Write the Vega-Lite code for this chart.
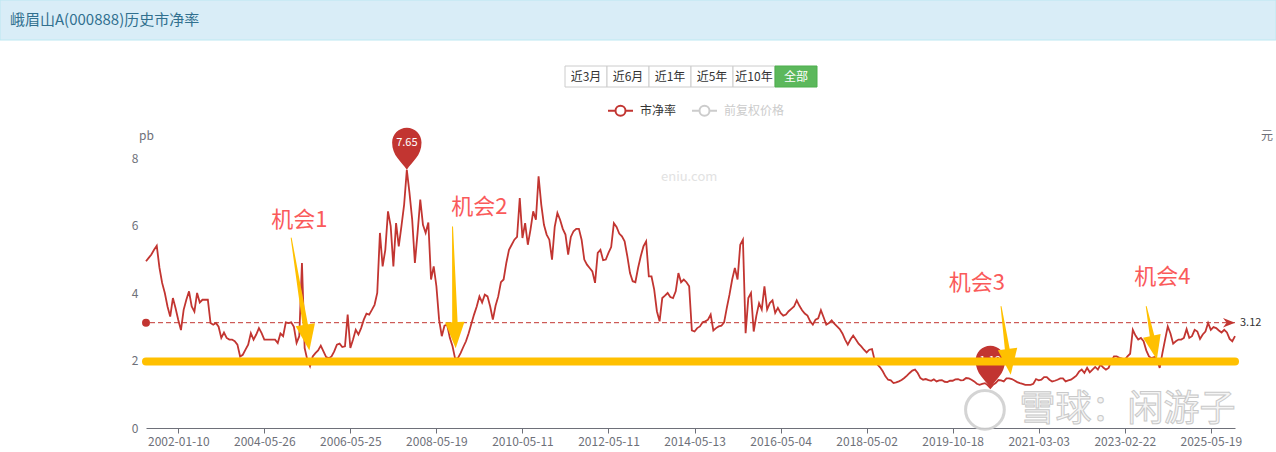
{
  "$schema": "https://vega.github.io/schema/vega-lite/v6.json",
  "width": 1089,
  "height": 270,
  "autosize": {"type": "none"},
  "padding": {"left": 146, "top": 158, "right": 41, "bottom": 24},
  "background": "#ffffff",
  "config": {
    "view": {"stroke": null},
    "font": "Noto Sans CJK SC",
    "text": {"font": "Noto Sans CJK SC"},
    "axis": {"labelFont": "Noto Sans CJK SC", "titleFont": "Noto Sans CJK SC", "labelColor": "#6e7079", "labelFontSize": 12}
  },
  "datasets": {
    "pb": [
      {"date":"2001-02-20","pb":4.94},{"date":"2001-03-19","pb":5.04},{"date":"2001-04-15","pb":5.14},{"date":"2001-05-12","pb":5.28},
      {"date":"2001-06-08","pb":5.4},{"date":"2001-07-05","pb":4.75},{"date":"2001-08-01","pb":4.3},{"date":"2001-08-28","pb":4.0},
      {"date":"2001-09-24","pb":3.6},{"date":"2001-10-21","pb":3.3},{"date":"2001-11-17","pb":3.85},{"date":"2001-12-14","pb":3.55},
      {"date":"2002-01-10","pb":3.2},{"date":"2002-02-06","pb":2.9},{"date":"2002-03-05","pb":3.5},{"date":"2002-04-01","pb":3.8},
      {"date":"2002-04-28","pb":4.05},{"date":"2002-05-25","pb":3.6},{"date":"2002-06-21","pb":3.45},{"date":"2002-07-18","pb":4.0},
      {"date":"2002-08-14","pb":3.72},{"date":"2002-09-10","pb":3.8},{"date":"2002-10-07","pb":3.8},{"date":"2002-11-03","pb":3.8},
      {"date":"2002-11-30","pb":3.11},{"date":"2002-12-27","pb":3.06},{"date":"2003-01-23","pb":3.11},{"date":"2003-02-19","pb":3.0},
      {"date":"2003-03-18","pb":2.67},{"date":"2003-04-14","pb":2.83},{"date":"2003-05-11","pb":2.67},{"date":"2003-06-07","pb":2.62},
      {"date":"2003-07-04","pb":2.62},{"date":"2003-07-31","pb":2.57},{"date":"2003-08-27","pb":2.47},{"date":"2003-09-23","pb":2.12},
      {"date":"2003-10-20","pb":2.17},{"date":"2003-11-16","pb":2.32},{"date":"2003-12-13","pb":2.47},{"date":"2004-01-09","pb":2.81},
      {"date":"2004-02-05","pb":2.62},{"date":"2004-03-03","pb":2.77},{"date":"2004-03-30","pb":2.96},{"date":"2004-04-27","pb":2.81},
      {"date":"2004-05-26","pb":2.62},{"date":"2004-06-15","pb":2.62},{"date":"2004-07-10","pb":2.62},{"date":"2004-08-02","pb":2.62},
      {"date":"2004-08-25","pb":2.62},{"date":"2004-09-17","pb":2.52},{"date":"2004-10-10","pb":2.8},{"date":"2004-11-02","pb":2.72},
      {"date":"2004-11-25","pb":3.13},{"date":"2004-12-18","pb":3.11},{"date":"2005-01-10","pb":3.13},{"date":"2005-02-02","pb":3.0},
      {"date":"2005-02-25","pb":2.52},{"date":"2005-03-18","pb":2.72},{"date":"2005-04-10","pb":4.89},{"date":"2005-05-02","pb":2.37},
      {"date":"2005-05-25","pb":2.02},{"date":"2005-06-17","pb":1.83},{"date":"2005-07-10","pb":2.12},{"date":"2005-08-02","pb":2.22},
      {"date":"2005-08-25","pb":2.3},{"date":"2005-09-17","pb":2.44},{"date":"2005-10-10","pb":2.27},{"date":"2005-11-02","pb":2.1},
      {"date":"2005-11-25","pb":2.07},{"date":"2005-12-18","pb":2.12},{"date":"2006-01-10","pb":2.27},{"date":"2006-02-02","pb":2.47},
      {"date":"2006-02-25","pb":2.5},{"date":"2006-03-18","pb":2.4},{"date":"2006-04-10","pb":2.42},{"date":"2006-04-28","pb":3.36},
      {"date":"2006-05-25","pb":2.37},{"date":"2006-06-15","pb":2.62},{"date":"2006-07-10","pb":2.91},{"date":"2006-08-02","pb":2.77},
      {"date":"2006-08-25","pb":2.96},{"date":"2006-09-17","pb":3.21},{"date":"2006-10-10","pb":3.39},{"date":"2006-11-02","pb":3.36},
      {"date":"2006-11-25","pb":3.5},{"date":"2006-12-18","pb":3.65},{"date":"2007-01-10","pb":4.0},{"date":"2007-02-02","pb":5.78},
      {"date":"2007-02-25","pb":4.79},{"date":"2007-03-18","pb":5.28},{"date":"2007-04-10","pb":6.42},{"date":"2007-05-02","pb":5.98},
      {"date":"2007-05-25","pb":4.79},{"date":"2007-06-17","pb":6.07},{"date":"2007-07-10","pb":5.38},{"date":"2007-08-02","pb":5.98},
      {"date":"2007-08-25","pb":6.62},{"date":"2007-09-17","pb":7.65},{"date":"2007-10-10","pb":6.96},{"date":"2007-11-02","pb":6.17},
      {"date":"2007-11-25","pb":4.89},{"date":"2007-12-18","pb":5.78},{"date":"2008-01-10","pb":6.77},{"date":"2008-02-02","pb":6.02},
      {"date":"2008-02-25","pb":5.78},{"date":"2008-03-18","pb":6.09},{"date":"2008-04-10","pb":4.4},{"date":"2008-04-28","pb":4.79},
      {"date":"2008-05-19","pb":4.2},{"date":"2008-06-15","pb":3.21},{"date":"2008-07-10","pb":2.72},{"date":"2008-08-02","pb":3.03},
      {"date":"2008-08-25","pb":3.06},{"date":"2008-09-17","pb":2.67},{"date":"2008-10-10","pb":2.42},{"date":"2008-11-02","pb":2.04},
      {"date":"2008-11-25","pb":2.07},{"date":"2008-12-18","pb":2.22},{"date":"2009-01-10","pb":2.4},{"date":"2009-02-02","pb":2.57},
      {"date":"2009-02-25","pb":2.81},{"date":"2009-03-18","pb":3.09},{"date":"2009-04-10","pb":3.36},{"date":"2009-05-02","pb":3.6},
      {"date":"2009-05-25","pb":3.9},{"date":"2009-06-17","pb":3.72},{"date":"2009-07-10","pb":3.95},{"date":"2009-08-02","pb":3.9},
      {"date":"2009-08-25","pb":3.6},{"date":"2009-09-17","pb":3.21},{"date":"2009-10-10","pb":3.62},{"date":"2009-11-02","pb":3.9},
      {"date":"2009-11-25","pb":4.32},{"date":"2009-12-18","pb":4.4},{"date":"2010-01-10","pb":4.89},{"date":"2010-02-02","pb":5.28},
      {"date":"2010-02-25","pb":5.43},{"date":"2010-03-18","pb":5.58},{"date":"2010-04-10","pb":5.66},{"date":"2010-04-28","pb":6.81},
      {"date":"2010-05-11","pb":5.63},{"date":"2010-06-15","pb":6.07},{"date":"2010-07-10","pb":5.43},{"date":"2010-08-02","pb":5.88},
      {"date":"2010-08-25","pb":6.42},{"date":"2010-09-17","pb":6.17},{"date":"2010-10-10","pb":7.46},{"date":"2010-11-02","pb":6.62},
      {"date":"2010-11-25","pb":6.02},{"date":"2010-12-18","pb":5.73},{"date":"2011-01-10","pb":5.58},{"date":"2011-02-02","pb":4.99},
      {"date":"2011-02-25","pb":5.96},{"date":"2011-03-18","pb":6.37},{"date":"2011-04-10","pb":6.17},{"date":"2011-05-02","pb":5.9},
      {"date":"2011-05-25","pb":5.73},{"date":"2011-06-17","pb":5.14},{"date":"2011-07-10","pb":5.66},{"date":"2011-08-02","pb":5.83},
      {"date":"2011-08-25","pb":5.9},{"date":"2011-09-17","pb":5.9},{"date":"2011-10-10","pb":5.58},{"date":"2011-11-02","pb":4.99},
      {"date":"2011-11-25","pb":4.84},{"date":"2011-12-18","pb":4.74},{"date":"2012-01-10","pb":4.64},{"date":"2012-02-02","pb":4.3},
      {"date":"2012-02-25","pb":5.19},{"date":"2012-03-18","pb":5.28},{"date":"2012-04-10","pb":4.97},{"date":"2012-04-28","pb":4.99},
      {"date":"2012-05-11","pb":5.19},{"date":"2012-06-15","pb":5.36},{"date":"2012-07-10","pb":6.07},{"date":"2012-08-02","pb":5.96},
      {"date":"2012-08-25","pb":5.76},{"date":"2012-09-17","pb":5.68},{"date":"2012-10-10","pb":5.53},{"date":"2012-11-02","pb":5.09},
      {"date":"2012-11-25","pb":4.59},{"date":"2012-12-18","pb":4.35},{"date":"2013-01-10","pb":4.32},{"date":"2013-02-02","pb":4.74},
      {"date":"2013-02-25","pb":5.09},{"date":"2013-03-18","pb":5.38},{"date":"2013-04-10","pb":5.53},{"date":"2013-05-02","pb":4.49},
      {"date":"2013-05-25","pb":4.49},{"date":"2013-06-17","pb":4.1},{"date":"2013-07-10","pb":3.46},{"date":"2013-08-02","pb":3.16},
      {"date":"2013-08-25","pb":3.85},{"date":"2013-09-17","pb":3.92},{"date":"2013-10-10","pb":4.0},{"date":"2013-11-02","pb":3.88},
      {"date":"2013-11-25","pb":3.85},{"date":"2013-12-18","pb":4.05},{"date":"2014-01-10","pb":4.59},{"date":"2014-02-02","pb":4.32},
      {"date":"2014-02-25","pb":4.4},{"date":"2014-03-18","pb":4.32},{"date":"2014-04-10","pb":4.2},{"date":"2014-04-28","pb":2.89},
      {"date":"2014-05-13","pb":2.86},{"date":"2014-06-15","pb":2.96},{"date":"2014-07-10","pb":3.01},{"date":"2014-08-02","pb":3.13},
      {"date":"2014-08-25","pb":3.16},{"date":"2014-09-17","pb":3.21},{"date":"2014-10-10","pb":3.36},{"date":"2014-11-02","pb":2.89},
      {"date":"2014-11-25","pb":2.96},{"date":"2014-12-18","pb":3.01},{"date":"2015-01-10","pb":3.03},{"date":"2015-02-02","pb":3.13},
      {"date":"2015-02-25","pb":3.56},{"date":"2015-03-18","pb":3.95},{"date":"2015-04-10","pb":4.4},{"date":"2015-05-02","pb":4.74},
      {"date":"2015-05-25","pb":4.4},{"date":"2015-06-17","pb":5.43},{"date":"2015-07-10","pb":5.58},{"date":"2015-08-02","pb":2.81},
      {"date":"2015-08-25","pb":3.85},{"date":"2015-09-17","pb":4.0},{"date":"2015-10-10","pb":2.86},{"date":"2015-11-02","pb":3.33},
      {"date":"2015-11-25","pb":3.7},{"date":"2015-12-18","pb":3.51},{"date":"2016-01-10","pb":4.2},{"date":"2016-02-02","pb":3.51},
      {"date":"2016-02-25","pb":3.7},{"date":"2016-03-18","pb":3.78},{"date":"2016-04-10","pb":3.41},{"date":"2016-04-28","pb":3.56},
      {"date":"2016-05-04","pb":3.41},{"date":"2016-06-15","pb":3.33},{"date":"2016-07-10","pb":3.36},{"date":"2016-08-02","pb":3.46},
      {"date":"2016-08-25","pb":3.53},{"date":"2016-09-17","pb":3.6},{"date":"2016-10-10","pb":3.78},{"date":"2016-11-02","pb":3.62},
      {"date":"2016-11-25","pb":3.49},{"date":"2016-12-18","pb":3.39},{"date":"2017-01-10","pb":3.33},{"date":"2017-02-02","pb":3.16},
      {"date":"2017-02-25","pb":3.06},{"date":"2017-03-18","pb":3.21},{"date":"2017-04-10","pb":3.25},{"date":"2017-05-02","pb":3.49},
      {"date":"2017-05-25","pb":3.28},{"date":"2017-06-17","pb":3.06},{"date":"2017-07-10","pb":3.11},{"date":"2017-08-02","pb":3.19},
      {"date":"2017-08-25","pb":3.09},{"date":"2017-09-17","pb":3.01},{"date":"2017-10-10","pb":2.93},{"date":"2017-11-02","pb":2.8},
      {"date":"2017-11-25","pb":2.62},{"date":"2017-12-18","pb":2.47},{"date":"2018-01-10","pb":2.62},{"date":"2018-02-02","pb":2.74},
      {"date":"2018-02-25","pb":2.62},{"date":"2018-03-18","pb":2.5},{"date":"2018-04-10","pb":2.42},{"date":"2018-04-28","pb":2.32},
      {"date":"2018-05-02","pb":2.24},{"date":"2018-05-18","pb":2.32},{"date":"2018-06-04","pb":2.34},{"date":"2018-06-21","pb":2.0},
      {"date":"2018-07-08","pb":1.88},{"date":"2018-07-24","pb":1.8},{"date":"2018-08-10","pb":1.68},{"date":"2018-08-27","pb":1.53},
      {"date":"2018-09-13","pb":1.43},{"date":"2018-09-29","pb":1.41},{"date":"2018-10-16","pb":1.33},{"date":"2018-11-02","pb":1.35},
      {"date":"2018-11-19","pb":1.38},{"date":"2018-12-05","pb":1.42},{"date":"2018-12-22","pb":1.48},{"date":"2019-01-08","pb":1.55},
      {"date":"2019-01-25","pb":1.63},{"date":"2019-02-11","pb":1.7},{"date":"2019-02-27","pb":1.73},{"date":"2019-03-16","pb":1.63},
      {"date":"2019-04-01","pb":1.48},{"date":"2019-04-18","pb":1.43},{"date":"2019-05-05","pb":1.45},{"date":"2019-05-21","pb":1.42},
      {"date":"2019-06-07","pb":1.4},{"date":"2019-06-23","pb":1.44},{"date":"2019-07-10","pb":1.38},{"date":"2019-07-27","pb":1.41},
      {"date":"2019-08-13","pb":1.42},{"date":"2019-08-29","pb":1.37},{"date":"2019-09-15","pb":1.36},{"date":"2019-10-01","pb":1.4},
      {"date":"2019-10-18","pb":1.4},{"date":"2019-11-02","pb":1.44},{"date":"2019-11-18","pb":1.45},{"date":"2019-12-04","pb":1.41},
      {"date":"2019-12-20","pb":1.42},{"date":"2020-01-05","pb":1.48},{"date":"2020-01-20","pb":1.47},{"date":"2020-02-05","pb":1.43},
      {"date":"2020-02-21","pb":1.38},{"date":"2020-03-08","pb":1.31},{"date":"2020-03-23","pb":1.28},{"date":"2020-04-08","pb":1.31},
      {"date":"2020-04-24","pb":1.33},{"date":"2020-05-10","pb":1.27},{"date":"2020-05-25","pb":1.19},{"date":"2020-06-10","pb":1.28},
      {"date":"2020-06-26","pb":1.33},{"date":"2020-07-12","pb":1.42},{"date":"2020-07-27","pb":1.41},{"date":"2020-08-12","pb":1.38},
      {"date":"2020-08-28","pb":1.47},{"date":"2020-09-13","pb":1.47},{"date":"2020-09-28","pb":1.45},{"date":"2020-10-14","pb":1.41},
      {"date":"2020-10-30","pb":1.36},{"date":"2020-11-15","pb":1.33},{"date":"2020-11-30","pb":1.31},{"date":"2020-12-17","pb":1.28},
      {"date":"2021-01-04","pb":1.28},{"date":"2021-01-18","pb":1.28},{"date":"2021-02-01","pb":1.31},{"date":"2021-02-16","pb":1.45},
      {"date":"2021-03-03","pb":1.41},{"date":"2021-03-25","pb":1.43},{"date":"2021-04-17","pb":1.51},{"date":"2021-05-09","pb":1.51},
      {"date":"2021-06-01","pb":1.43},{"date":"2021-06-23","pb":1.38},{"date":"2021-07-16","pb":1.4},{"date":"2021-08-07","pb":1.43},
      {"date":"2021-08-30","pb":1.47},{"date":"2021-09-22","pb":1.47},{"date":"2021-10-14","pb":1.38},{"date":"2021-11-05","pb":1.41},
      {"date":"2021-11-28","pb":1.43},{"date":"2021-12-20","pb":1.49},{"date":"2022-01-12","pb":1.55},{"date":"2022-02-03","pb":1.67},
      {"date":"2022-02-26","pb":1.73},{"date":"2022-03-20","pb":1.63},{"date":"2022-04-12","pb":1.78},{"date":"2022-05-04","pb":1.65},
      {"date":"2022-05-27","pb":1.73},{"date":"2022-06-18","pb":1.81},{"date":"2022-07-11","pb":1.73},{"date":"2022-08-02","pb":1.88},
      {"date":"2022-08-25","pb":1.79},{"date":"2022-09-17","pb":1.73},{"date":"2022-10-09","pb":1.78},{"date":"2022-10-31","pb":1.98},
      {"date":"2022-11-23","pb":2.12},{"date":"2022-12-15","pb":2.12},{"date":"2023-01-07","pb":2.08},{"date":"2023-01-30","pb":2.06},
      {"date":"2023-02-22","pb":2.02},{"date":"2023-03-20","pb":2.12},{"date":"2023-04-14","pb":2.2},{"date":"2023-05-09","pb":2.91},
      {"date":"2023-06-04","pb":2.74},{"date":"2023-06-29","pb":2.62},{"date":"2023-07-25","pb":2.67},{"date":"2023-08-19","pb":2.57},
      {"date":"2023-09-14","pb":2.3},{"date":"2023-10-09","pb":2.12},{"date":"2023-11-04","pb":2.07},{"date":"2023-11-29","pb":2.1},
      {"date":"2023-12-25","pb":2.02},{"date":"2024-01-19","pb":1.78},{"date":"2024-02-14","pb":2.22},{"date":"2024-03-10","pb":2.62},
      {"date":"2024-04-05","pb":3.01},{"date":"2024-04-30","pb":2.8},{"date":"2024-05-26","pb":2.5},{"date":"2024-06-20","pb":2.57},
      {"date":"2024-07-16","pb":2.62},{"date":"2024-08-10","pb":2.62},{"date":"2024-09-05","pb":2.67},{"date":"2024-09-30","pb":2.93},
      {"date":"2024-10-26","pb":2.67},{"date":"2024-11-20","pb":2.72},{"date":"2024-12-16","pb":2.91},{"date":"2025-01-10","pb":2.86},
      {"date":"2025-02-05","pb":2.64},{"date":"2025-03-02","pb":2.77},{"date":"2025-03-28","pb":2.86},{"date":"2025-04-23","pb":3.11},
      {"date":"2025-05-19","pb":2.91},{"date":"2025-05-30","pb":2.99},{"date":"2025-06-10","pb":2.96},{"date":"2025-06-20","pb":2.89},
      {"date":"2025-07-01","pb":2.83},{"date":"2025-07-11","pb":2.91},{"date":"2025-07-22","pb":2.83},{"date":"2025-08-01","pb":2.64},
      {"date":"2025-08-12","pb":2.57},{"date":"2025-08-22","pb":2.72}
    ],
    "arrows": [
      {"arrow": "机会1", "date": "2005-01-10", "pb": 5.63, "part": "tail"},
      {"arrow": "机会1", "date": "2005-05-25", "pb": 2.68, "part": "head"},
      {"arrow": "机会2", "date": "2008-10-10", "pb": 5.96, "part": "tail"},
      {"arrow": "机会2", "date": "2008-11-02", "pb": 2.75, "part": "head"},
      {"arrow": "机会3", "date": "2020-07-27", "pb": 3.6, "part": "tail"},
      {"arrow": "机会3", "date": "2020-09-13", "pb": 1.96, "part": "head"},
      {"arrow": "机会4", "date": "2023-09-14", "pb": 3.6, "part": "tail"},
      {"arrow": "机会4", "date": "2023-11-29", "pb": 2.38, "part": "head"}
    ],
    "notes": [
      {"label": "机会1", "date": "2005-03-18", "pb": 6.17},
      {"label": "机会2", "date": "2009-05-25", "pb": 6.56},
      {"label": "机会3", "date": "2020-03-08", "pb": 4.29},
      {"label": "机会4", "date": "2024-02-14", "pb": 4.47}
    ]
  },
  "resolve": {"scale": {"x": "independent", "y": "independent"}},
  "layer": [
    {
      "data": {"values": [{"t": "峨眉山A(000888)历史市净率"}]},
      "encoding": {
        "x": {"datum": 0, "type": "quantitative", "scale": {"domain": [0, 1], "range": [-146, 1130]}, "axis": null},
        "y": {"datum": 0, "type": "quantitative", "scale": {"domain": [0, 1], "range": [-158, -118]}, "axis": null}
      },
      "layer": [
        {"mark": {"type": "rect", "fill": "#d9edf7", "stroke": "#bce8f1", "strokeWidth": 1}, "encoding": {"x2": {"datum": 1}, "y2": {"datum": 1}}},
        {"mark": {"type": "text", "align": "left", "baseline": "middle", "dx": 10, "fontSize": 15, "fill": "#31708f"}, "encoding": {"y": {"datum": 0.5, "type": "quantitative"}, "text": {"field": "t"}}}
      ]
    },
    {
      "data": {"values": [
        {"label": "近3月", "on": false}, {"label": "近6月", "on": false}, {"label": "近1年", "on": false},
        {"label": "近5年", "on": false}, {"label": "近10年", "on": false}, {"label": "全部", "on": true}
      ]},
      "encoding": {
        "x": {"field": "label", "type": "nominal", "sort": null, "scale": {"type": "band", "range": [419, 671], "paddingInner": 0, "paddingOuter": 0}, "axis": null},
        "y": {"datum": 0, "type": "quantitative", "scale": {"domain": [0, 1], "range": [-92, -71]}, "axis": null}
      },
      "layer": [
        {"mark": {"type": "rect", "strokeWidth": 1}, "encoding": {
          "y2": {"datum": 1},
          "fill": {"condition": {"test": "datum.on", "value": "#5cb85c"}, "value": "#ffffff"},
          "stroke": {"condition": {"test": "datum.on", "value": "#4cae4c"}, "value": "#cccccc"}
        }},
        {"mark": {"type": "text", "baseline": "middle", "fontSize": 12}, "encoding": {
          "y": {"datum": 0.5, "type": "quantitative"},
          "text": {"field": "label"},
          "fill": {"condition": {"test": "datum.on", "value": "#ffffff"}, "value": "#333333"}
        }}
      ]
    },
    {
      "layer": [
        {
          "data": {"name": "pb"},
          "mark": {"type": "line", "strokeWidth": 1.8},
          "encoding": {
            "x": {"field": "date", "type": "ordinal", "scale": {"type": "point", "padding": 0},
              "axis": {"values": ["2002-01-10", "2004-05-26", "2006-05-25", "2008-05-19", "2010-05-11", "2012-05-11", "2014-05-13", "2016-05-04", "2018-05-02", "2019-10-18", "2021-03-03", "2023-02-22", "2025-05-19"],
                "labelAngle": 0, "title": null, "domainColor": "#6e7079", "tickColor": "#6e7079", "tickSize": 5, "labelPadding": 3, "grid": false, "labelOverlap": false}},
            "y": {"field": "pb", "type": "quantitative", "scale": {"domain": [0, 8], "nice": false},
              "axis": {"values": [0, 2, 4, 6, 8], "gridColor": "#e0e6f1", "domain": false, "ticks": false, "labelPadding": 8,
                "title": "pb", "titleAngle": 0, "titleX": 0, "titleY": -19, "titleAlign": "center", "titleBaseline": "alphabetic",
                "titleColor": "#6e7079", "titleFontSize": 12, "titleFontWeight": "normal"}},
            "color": {"datum": "市净率", "type": "nominal",
              "scale": {"domain": ["市净率", "前复权价格"], "range": ["#c23531", "#cccccc"]},
              "legend": {"orient": "none", "legendX": 461, "legendY": -61, "direction": "horizontal", "title": null,
                "symbolType": "M-1,0 L-0.4,0 M0.4,0 L1,0 M-0.4,0 A0.4,0.4 0 1 0 0.4,0 A0.4,0.4 0 1 0 -0.4,0",
                "symbolSize": 625, "symbolStrokeWidth": 2, "symbolFillColor": "#ffffff",
                "labelFontSize": 12, "labelFont": "Noto Sans CJK SC",
                "labelColor": {"expr": "datum.label == '前复权价格' ? '#cccccc' : '#333333'"},
                "labelOffset": 6, "columnPadding": 11, "padding": 0}}
          }
        },
        {
          "data": {"values": [{"avg": 3.12}]},
          "mark": {"type": "rule", "color": "#c23531", "strokeDash": [5, 3], "strokeWidth": 1},
          "encoding": {"y": {"field": "avg", "type": "quantitative"}}
        },
        {
          "data": {"values": [{"date": "2001-02-20", "avg": 3.12}]},
          "mark": {"type": "point", "shape": "circle", "filled": true, "size": 64, "color": "#c23531", "opacity": 1},
          "encoding": {"x": {"field": "date", "type": "ordinal"}, "y": {"field": "avg", "type": "quantitative"}}
        },
        {
          "data": {"values": [{"date": "2025-08-22", "avg": 3.12, "t": "3.12"}]},
          "encoding": {"x": {"field": "date", "type": "ordinal"}, "y": {"field": "avg", "type": "quantitative"}},
          "layer": [
            {"mark": {"type": "point", "shape": "M-1,-0.8 L1,0 L-1,0.8 L-0.4,0 Z", "filled": true, "size": 144, "color": "#c23531", "opacity": 1, "xOffset": -6}},
            {"mark": {"type": "text", "align": "left", "baseline": "middle", "dx": 5, "fontSize": 11, "color": "#333333"}, "encoding": {"text": {"field": "t"}}}
          ]
        },
        {
          "data": {"values": [{"date": "2007-09-17", "pb": 7.65, "t": "7.65"}, {"date": "2020-05-25", "pb": 1.19, "t": "1.19"}]},
          "encoding": {"x": {"field": "date", "type": "ordinal"}, "y": {"field": "pb", "type": "quantitative"}},
          "layer": [
            {"mark": {"type": "point", "shape": "M0,0 C-0.25,-0.4 -0.7,-0.65 -0.7,-1.3 A0.7,0.7 0 1 1 0.7,-1.3 C0.7,-0.65 0.25,-0.4 0,0 Z", "filled": true, "size": 1764, "color": "#c23531", "opacity": 1}},
            {"mark": {"type": "text", "align": "center", "baseline": "middle", "dy": -27, "fontSize": 11, "color": "#ffffff"}, "encoding": {"text": {"field": "t"}}}
          ]
        },
        {
          "data": {"values": [{"level": 1.97}]},
          "mark": {"type": "rule", "color": "#ffc000", "strokeWidth": 8, "strokeCap": "round"},
          "encoding": {"y": {"field": "level", "type": "quantitative"}}
        },
        {
          "data": {"name": "arrows"},
          "mark": {"type": "trail", "color": "#ffc000"},
          "encoding": {
            "x": {"field": "date", "type": "ordinal"},
            "y": {"field": "pb", "type": "quantitative"},
            "detail": {"field": "arrow"},
            "size": {"field": "part", "type": "ordinal", "scale": {"domain": ["tail", "head"], "range": [1, 6]}, "legend": null}
          }
        },
        {
          "data": {"name": "arrows"},
          "transform": [{"filter": "datum.part == 'head' && datum.arrow == '机会1'"}],
          "mark": {"type": "point", "shape": "M-0.75,-1 L0.75,-1 L0,1 Z", "filled": true, "size": 676, "color": "#ffc000", "opacity": 1, "angle": 351},
          "encoding": {"x": {"field": "date", "type": "ordinal"}, "y": {"field": "pb", "type": "quantitative"}}
        },
        {
          "data": {"name": "arrows"},
          "transform": [{"filter": "datum.part == 'head' && datum.arrow == '机会2'"}],
          "mark": {"type": "point", "shape": "M-0.75,-1 L0.75,-1 L0,1 Z", "filled": true, "size": 676, "color": "#ffc000", "opacity": 1, "angle": 358},
          "encoding": {"x": {"field": "date", "type": "ordinal"}, "y": {"field": "pb", "type": "quantitative"}}
        },
        {
          "data": {"name": "arrows"},
          "transform": [{"filter": "datum.part == 'head' && datum.arrow == '机会3'"}],
          "mark": {"type": "point", "shape": "M-0.75,-1 L0.75,-1 L0,1 Z", "filled": true, "size": 676, "color": "#ffc000", "opacity": 1, "angle": 353},
          "encoding": {"x": {"field": "date", "type": "ordinal"}, "y": {"field": "pb", "type": "quantitative"}}
        },
        {
          "data": {"name": "arrows"},
          "transform": [{"filter": "datum.part == 'head' && datum.arrow == '机会4'"}],
          "mark": {"type": "point", "shape": "M-0.75,-1 L0.75,-1 L0,1 Z", "filled": true, "size": 576, "color": "#ffc000", "opacity": 1, "angle": 348},
          "encoding": {"x": {"field": "date", "type": "ordinal"}, "y": {"field": "pb", "type": "quantitative"}}
        },
        {
          "data": {"name": "notes"},
          "mark": {"type": "text", "align": "center", "baseline": "middle", "fontSize": 22, "color": "#fa5a5a"},
          "encoding": {"x": {"field": "date", "type": "ordinal"}, "y": {"field": "pb", "type": "quantitative"}, "text": {"field": "label"}}
        },
        {
          "data": {"values": [{"date": "2014-04-10", "pb": 7.45, "t": "eniu.com"}]},
          "mark": {"type": "text", "align": "center", "baseline": "middle", "fontSize": 13, "color": "#e2e2e2"},
          "encoding": {"x": {"field": "date", "type": "ordinal"}, "y": {"field": "pb", "type": "quantitative"}, "text": {"field": "t"}}
        },
        {
          "data": {"values": [{"date": "2025-08-22", "pb": 8, "t": "元"}]},
          "mark": {"type": "text", "align": "center", "baseline": "middle", "fontSize": 12, "color": "#6e7079", "dx": 32, "dy": -22},
          "encoding": {"x": {"field": "date", "type": "ordinal"}, "y": {"field": "pb", "type": "quantitative"}, "text": {"field": "t"}}
        },
        {
          "data": {"values": [{"date": "2020-04-24", "pb": 0.54}]},
          "mark": {"type": "point", "shape": "circle", "filled": false, "size": 1500, "stroke": "#d0d0d0", "strokeWidth": 3, "opacity": 0.9},
          "encoding": {"x": {"field": "date", "type": "ordinal"}, "y": {"field": "pb", "type": "quantitative"}}
        },
        {
          "data": {"values": [{"date": "2023-03-20", "pb": 0.54, "t": "雪球：闲游子"}]},
          "mark": {"type": "text", "align": "center", "baseline": "middle", "fontSize": 36, "fill": "#f4f4f4", "stroke": "#c4c4c4", "strokeWidth": 1, "opacity": 0.9},
          "encoding": {"x": {"field": "date", "type": "ordinal"}, "y": {"field": "pb", "type": "quantitative"}, "text": {"field": "t"}}
        }
      ]
    }
  ]
}
